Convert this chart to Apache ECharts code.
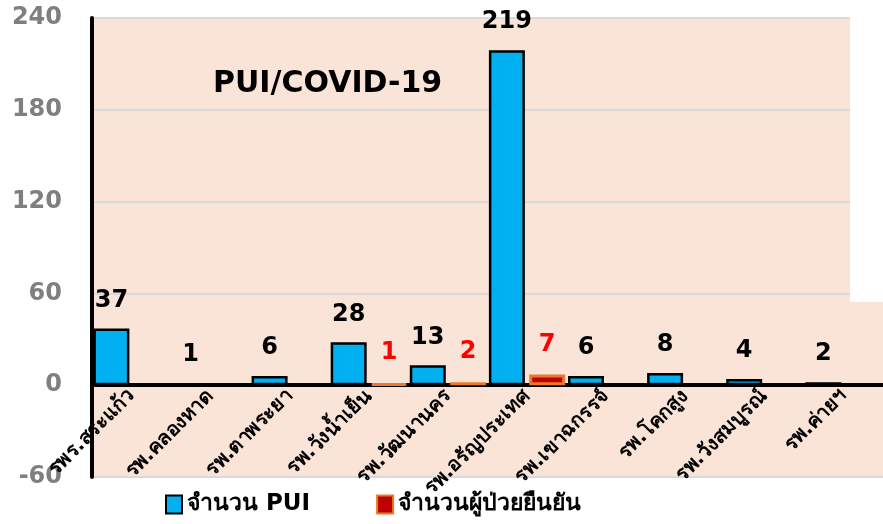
<!DOCTYPE html>
<html>
<head>
<meta charset="utf-8">
<script src="https://cdn.jsdelivr.net/npm/echarts@6/dist/echarts.min.js"></script>
<style>
  html, body { margin: 0; padding: 0; background: #fff; }
  #chart1 { width: 883px; height: 524px; }
</style>
</head>
<body>
<div id="chart1"></div>
<script>
// ข้อมูล
var hospitals = ['รพร.สระแก้ว', 'รพ.คลองหาด', 'รพ.ตาพระยา', 'รพ.วังน้ำเย็น', 'รพ.วัฒนานคร',
                 'รพ.อรัญประเทศ', 'รพ.เขาฉกรรจ์', 'รพ.โคกสูง', 'รพ.วังสมบูรณ์', 'รพ.ค่ายฯ'];
var puiCount = [37, 1, 6, 28, 13, 219, 6, 8, 4, 2];
var confirmedCount = ['-', '-', '-', 1, 2, 7, '-', '-', '-', '-'];
var yTicks = [-60, 0, 60, 120, 180, 240];

var font = '"DejaVu Sans", "Noto Sans", sans-serif';

var option1 = {
    animation: false,
    textStyle: { fontFamily: font },
    grid: {
        left: 92, right: 0, top: 18, bottom: 47,
        outerBoundsMode: 'none',
        containLabel: false,
        show: true,
        backgroundColor: '#FAE3D7',
        borderWidth: 0
    },
    title: {
        text: 'PUI/COVID-19',
        left: 208, top: 64,
        textStyle: { fontSize: 30, fontWeight: 'bold', color: '#000', fontFamily: font }
    },
    legend: {
        left: 160, bottom: 3,
        icon: 'rect',
        itemWidth: 16, itemHeight: 18,
        itemGap: 66,
        textStyle: { fontSize: 23, fontWeight: 'bold', color: '#000', fontFamily: font },
        data: ['จำนวน PUI', 'จำนวนผู้ป่วยยืนยัน']
    },
    xAxis: {
        type: 'category',
        data: hospitals,
        offset: -92,
        axisLine: { onZero: false, lineStyle: { color: '#000', width: 4 } },
        axisTick: { show: false },
        axisLabel: {
            rotate: 45, interval: 0, margin: 8,
            fontSize: 20, fontWeight: 'bold', color: '#000', fontFamily: font
        }
    },
    yAxis: {
        type: 'value',
        min: yTicks[0], max: yTicks[yTicks.length - 1], interval: 60,
        axisLine: { show: true, lineStyle: { color: '#000', width: 4 } },
        axisTick: { show: false },
        axisLabel: {
            margin: 30, fontSize: 24, fontWeight: 'bold', color: '#7F7F7F', fontFamily: font
        },
        splitLine: { lineStyle: { color: '#D9D9D9', width: 2 } }
    },
    series: [
        {
            name: 'จำนวน PUI',
            type: 'bar',
            barWidth: 36,
            barGap: '12%',
            data: puiCount,
            itemStyle: { color: '#00B0F0', borderColor: '#000', borderWidth: 2.5 },
            label: {
                show: true, position: 'top', distance: 16,
                fontSize: 24, fontWeight: 'bold', color: '#000', fontFamily: font
            }
        },
        {
            name: 'จำนวนผู้ป่วยยืนยัน',
            type: 'bar',
            barWidth: 36,
            data: confirmedCount,
            itemStyle: { color: '#C00000', borderColor: '#E97A2B', borderWidth: 3 },
            label: {
                show: true, position: 'top', distance: 18,
                fontSize: 24, fontWeight: 'bold', color: '#FF0000', fontFamily: font
            }
        }
    ],
    graphic: [
        {
            type: 'rect', z: 50,
            shape: { x: 850, y: 0, width: 33, height: 302 },
            style: { fill: '#fff' }
        }
    ]
};

echarts.init(document.getElementById('chart1')).setOption(option1);
</script>
</body>
</html>
